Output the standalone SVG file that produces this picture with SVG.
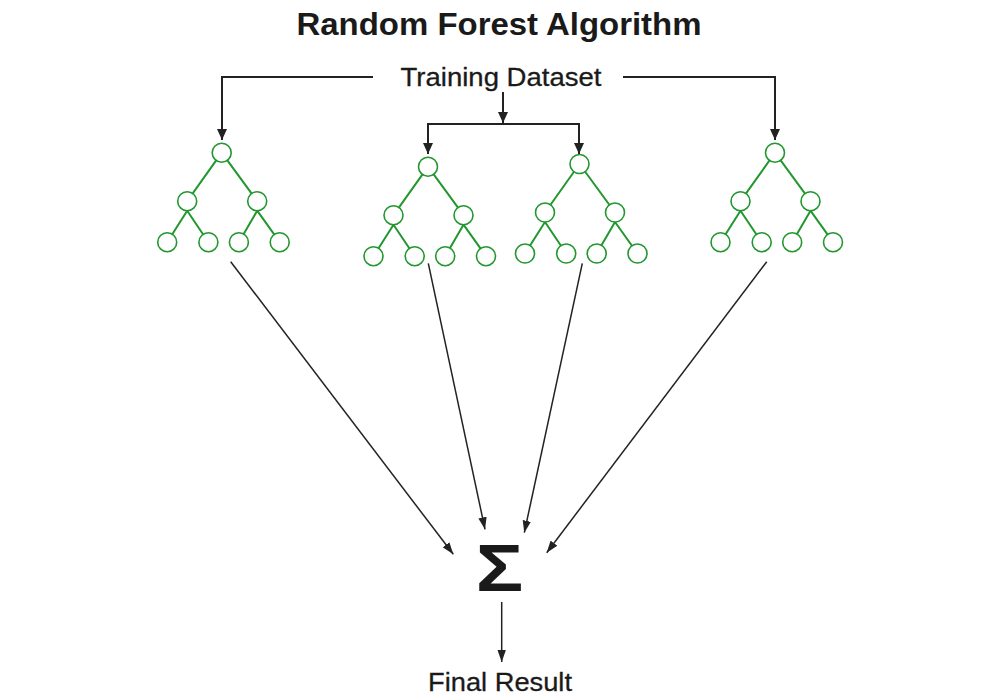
<svg xmlns="http://www.w3.org/2000/svg" width="1000" height="700" viewBox="0 0 1000 700">
<style>
.t{font-family:"Liberation Sans",Arial,sans-serif;fill:#1a1a1a;text-anchor:middle}
.title{font-weight:bold;font-size:31px}
.lbl{font-size:26px;stroke:#1a1a1a;stroke-width:0.3}
.conn{fill:none;stroke:#222;stroke-width:2}
.diag{fill:none;stroke:#222;stroke-width:1.5}
.edge{stroke:#22962f;stroke-width:2;fill:none}
.nd{fill:#fff;stroke:#22962f;stroke-width:1.6}
</style>
<defs>
<marker id="ah" markerUnits="userSpaceOnUse" markerWidth="12" markerHeight="12" viewBox="0 0 12 12" refX="11" refY="6" orient="auto">
<path d="M0,1 L11,6 L0,11 Z" fill="#222"/>
</marker>
<marker id="ah2" markerUnits="userSpaceOnUse" markerWidth="13" markerHeight="10" viewBox="0 0 13 10" refX="12" refY="5" orient="auto">
<path d="M0,0.8 L12,5 L0,9.2 Z" fill="#222"/>
</marker>
<g id="tree">
<path class="edge" d="M0,0 L-34.5,48.5 M0,0 L35.5,48.5 M-34.5,58 L-54.5,89.5 M-34.5,58 L-13.3,89.5 M35.5,58 L17.2,89.5 M35.5,58 L58,89.5"/>
<circle class="nd" cx="0" cy="0" r="9.5"/>
<circle class="nd" cx="-34.5" cy="48.5" r="9.5"/>
<circle class="nd" cx="35.5" cy="48.5" r="9.5"/>
<circle class="nd" cx="-54.5" cy="89.5" r="9.5"/>
<circle class="nd" cx="-13.3" cy="89.5" r="9.5"/>
<circle class="nd" cx="17.2" cy="89.5" r="9.5"/>
<circle class="nd" cx="58" cy="89.5" r="9.5"/>
</g>
</defs>
<rect width="1000" height="700" fill="#fff"/>
<g id="title"><text class="t title" x="499" y="35" textLength="405" lengthAdjust="spacingAndGlyphs">Random Forest Algorithm</text></g>
<g id="training-dataset"><text class="t lbl" x="501" y="86" textLength="201" lengthAdjust="spacingAndGlyphs">Training Dataset</text></g>
<g id="tree1"><use href="#tree" transform="translate(221.7,152.7)"/></g>
<g id="tree2"><use href="#tree" transform="translate(428,166.7)"/></g>
<g id="tree3"><use href="#tree" transform="translate(579.5,164)"/></g>
<g id="tree4"><use href="#tree" transform="translate(775,152.7)"/></g>
<g id="sum"><text transform="translate(499.5,591) scale(1.2,1)" x="0" y="0" font-family="Liberation Sans,Arial,sans-serif" font-weight="bold" font-size="66" fill="#1a1a1a" text-anchor="middle">Σ</text></g>
<g id="final-result"><text class="t lbl" x="500" y="691" textLength="144" lengthAdjust="spacingAndGlyphs">Final Result</text></g>
<g id="connectors">
<path class="conn" d="M373,77 H222 V140" marker-end="url(#ah)"/>
<path class="conn" d="M623,77 H775 V140" marker-end="url(#ah)"/>
<path class="conn" d="M503,92 V123" marker-end="url(#ah)"/>
<path class="conn" d="M503,124 H428 V154" marker-end="url(#ah)"/>
<path class="conn" d="M503,124 H579 V154" marker-end="url(#ah)"/>
<path class="diag" d="M230.7,261.7 L453.3,554.3" marker-end="url(#ah2)"/>
<path class="diag" d="M428.3,263.3 L485,529.3" marker-end="url(#ah2)"/>
<path class="diag" d="M582.3,263.3 L524.3,532.7" marker-end="url(#ah2)"/>
<path class="diag" d="M766.7,261.7 L546.7,552.7" marker-end="url(#ah2)"/>
<path class="diag" d="M501.7,602 V662" marker-end="url(#ah2)"/>
</g>
</svg>
